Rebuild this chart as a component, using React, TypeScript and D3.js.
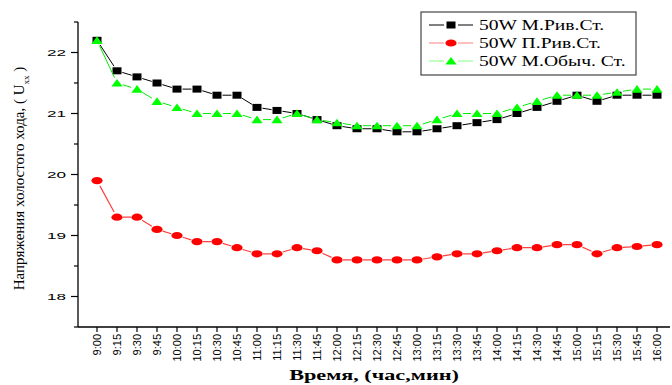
import React from 'react';
import * as d3 from 'd3';

// time labels on the x axis
const times = [
  '9:00', '9:15', '9:30', '9:45', '10:00', '10:15', '10:30', '10:45', '11:00', '11:15',
  '11:30', '11:45', '12:00', '12:15', '12:30', '12:45', '13:00', '13:15', '13:30', '13:45',
  '14:00', '14:15', '14:30', '14:45', '15:00', '15:15', '15:30', '15:45', '16:00',
];

// 50W М.Рив.Ст. (black squares)
const blackSeries = [
  22.2, 21.7, 21.6, 21.5, 21.4, 21.4, 21.3, 21.3, 21.1, 21.05,
  21.0, 20.9, 20.8, 20.75, 20.75, 20.7, 20.7, 20.75, 20.8, 20.85,
  20.9, 21.0, 21.1, 21.2, 21.3, 21.2, 21.3, 21.3, 21.3,
];

// 50W П.Рив.Ст. (red circles)
const redSeries = [
  19.9, 19.3, 19.3, 19.1, 19.0, 18.9, 18.9, 18.8, 18.7, 18.7,
  18.8, 18.75, 18.6, 18.6, 18.6, 18.6, 18.6, 18.65, 18.7, 18.7,
  18.75, 18.8, 18.8, 18.85, 18.85, 18.7, 18.8, 18.82, 18.85,
];

// 50W М.Обыч. Ст. (green triangles)
const greenSeries = [
  22.2, 21.5, 21.4, 21.2, 21.1, 21.0, 21.0, 21.0, 20.9, 20.9,
  21.0, 20.9, 20.85, 20.8, 20.8, 20.8, 20.8, 20.9, 21.0, 21.0,
  21.0, 21.1, 21.2, 21.3, 21.3, 21.3, 21.35, 21.4, 21.4,
];

const yTicks = [18, 19, 20, 21, 22];
const legendLabels = ['50W М.Рив.Ст.', '50W П.Рив.Ст.', '50W М.Обыч. Ст.'];

const W = 672;
const H = 385;
const serif = '"Liberation Serif", "Times New Roman", serif';
const sans = '"Liberation Sans", Arial, sans-serif';

const x = d3.scaleLinear().domain([-0.95, 28.65]).range([78, 670]);
const y = d3.scaleLinear().domain([17.5, 22.5]).range([327, 22]);

type Pt = [number, number];

// line pieces between markers, leaving a small gap around each marker
function segments(values: number[], gap: number): string {
  const pts: Pt[] = values.map((v, i) => [x(i), y(v)]);
  const path = d3.path();
  for (let i = 0; i < pts.length - 1; i++) {
    const [x0, y0] = pts[i];
    const [x1, y1] = pts[i + 1];
    const len = Math.hypot(x1 - x0, y1 - y0);
    if (len <= gap * 2) continue;
    const ux = (x1 - x0) / len;
    const uy = (y1 - y0) / len;
    path.moveTo(x0 + ux * gap, y0 + uy * gap);
    path.lineTo(x1 - ux * gap, y1 - uy * gap);
  }
  return path.toString();
}

const Square = ({ cx, cy }: { cx: number; cy: number }) => (
  <rect x={cx - 4.5} y={cy - 3.5} width={9} height={7} fill="#000" />
);
const Dot = ({ cx, cy }: { cx: number; cy: number }) => (
  <ellipse cx={cx} cy={cy} rx={5.6} ry={3.6} fill="#ff0000" />
);
const Tri = ({ cx, cy }: { cx: number; cy: number }) => (
  <path d={`M${cx},${cy - 4} L${cx + 5.6},${cy + 3.6} L${cx - 5.6},${cy + 3.6} Z`} fill="#00ff00" />
);

export default function App() {
  const yMinor = d3.range(17.5, 22.51, 0.5).filter((v) => !yTicks.includes(v));
  const legendX = 421;
  const legendY = 12;
  const rows = [
    { label: legendLabels[0], line: '#000', Marker: Square },
    { label: legendLabels[1], line: '#ff8080', Marker: Dot },
    { label: legendLabels[2], line: '#80ff80', Marker: Tri },
  ];

  return (
    <div style={{ position: 'absolute', left: 0, top: 0 }}>
      <svg width={W} height={H} style={{ display: 'block', background: '#fff' }}>
        {/* axes */}
        <line x1={x.range()[0]} x2={x.range()[0]} y1={y.range()[1]} y2={y.range()[0]} stroke="#000" strokeWidth={1.3} />
        <line x1={x.range()[0]} x2={x.range()[1]} y1={y.range()[0]} y2={y.range()[0]} stroke="#000" strokeWidth={1.3} />

        {yTicks.map((t) => (
          <g key={t}>
            <line x1={x.range()[0] - 7} x2={x.range()[0]} y1={y(t)} y2={y(t)} stroke="#000" strokeWidth={1.2} />
            <text
              transform={`translate(${x.range()[0] - 12},${y(t) + 3.5}) scale(1.8,1)`}
              textAnchor="end"
              fontFamily={sans}
              fontSize={9.5}
            >
              {t}
            </text>
          </g>
        ))}
        {yMinor.map((t) => (
          <line key={t} x1={x.range()[0] - 4} x2={x.range()[0]} y1={y(t)} y2={y(t)} stroke="#000" strokeWidth={1.2} />
        ))}

        {times.map((t, i) => (
          <g key={t}>
            <line x1={x(i)} x2={x(i)} y1={y.range()[0]} y2={y.range()[0] + 5} stroke="#000" strokeWidth={1.2} />
            <text
              transform={`translate(${x(i) + 3.6},${y.range()[0] + 7}) scale(1.05,1) rotate(-90)`}
              textAnchor="end"
              fontFamily={sans}
              fontSize={11}
            >
              {t}
            </text>
          </g>
        ))}

        {/* axis titles */}
        <text
          transform={`translate(${(x.range()[0] + x.range()[1]) / 2},380) scale(1.48,1)`}
          textAnchor="middle"
          fontFamily={serif}
          fontSize={15}
          fontWeight="bold"
        >
          Время, (час,мин)
        </text>
        <text
          transform={`translate(24,${(y.range()[0] + y.range()[1]) / 2 + 4}) rotate(-90)`}
          textAnchor="middle"
          fontFamily={serif}
          fontSize={15}
        >
          Напряжения холостого хода, ( U
          <tspan fontSize={9} dy={5}>xx</tspan>
          <tspan dy={-5}> )</tspan>
        </text>

        {/* series */}
        <path d={segments(redSeries, 6)} stroke="#ff4040" strokeWidth={1.2} fill="none" />
        {redSeries.map((v, i) => <Dot key={i} cx={x(i)} cy={y(v)} />)}

        <path d={segments(blackSeries, 5.5)} stroke="#000" strokeWidth={1} fill="none" />
        {blackSeries.map((v, i) => <Square key={i} cx={x(i)} cy={y(v)} />)}

        <path d={segments(greenSeries, 6)} stroke="#00ee00" strokeWidth={1} fill="none" />
        {greenSeries.map((v, i) => <Tri key={i} cx={x(i)} cy={y(v)} />)}

        {/* legend */}
        <rect x={legendX} y={legendY} width={215} height={63} fill="#fff" stroke="#444" strokeWidth={1.2} />
        {rows.map((r, i) => {
          const cy = legendY + 13 + i * 18;
          return (
            <g key={r.label}>
              <line x1={legendX + 8} x2={legendX + 23} y1={cy} y2={cy} stroke={r.line} strokeWidth={1} />
              <line x1={legendX + 37} x2={legendX + 52} y1={cy} y2={cy} stroke={r.line} strokeWidth={1} />
              <r.Marker cx={legendX + 30} cy={cy} />
              <text
                transform={`translate(${legendX + 58},${cy + 5}) scale(1.4,1)`}
                fontFamily={serif}
                fontSize={14}
              >
                {r.label}
              </text>
            </g>
          );
        })}
      </svg>
    </div>
  );
}
